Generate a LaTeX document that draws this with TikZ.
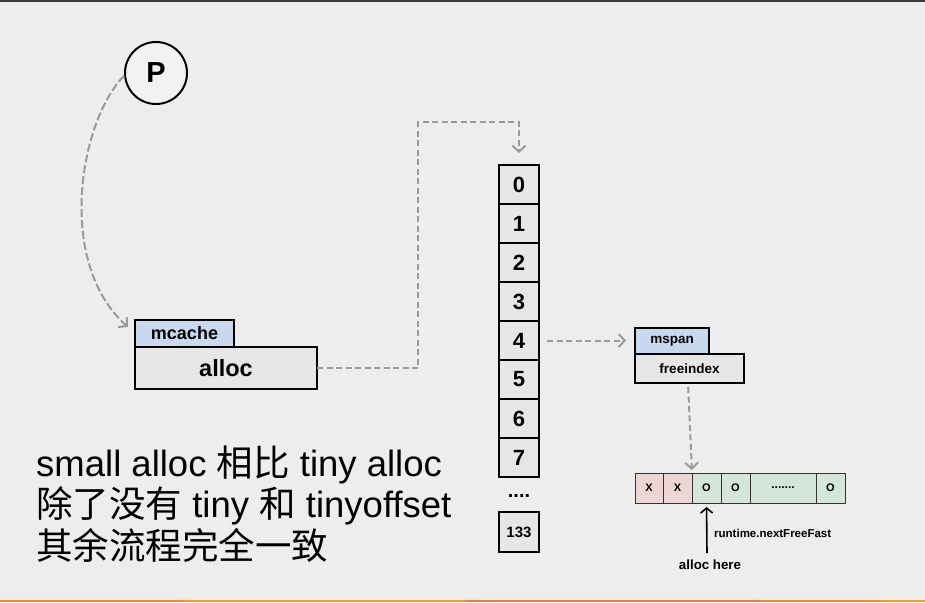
\documentclass[tikz,border=0pt]{standalone}
\usepackage{fontspec}
\setmainfont{Liberation Sans}
\newfontfamily\cjk{Noto Sans CJK SC}
\usetikzlibrary{arrows.meta,calc}
\definecolor{bg}{HTML}{EDEDED}
\definecolor{tabblue}{HTML}{C8D8EE}
\definecolor{cellgray}{HTML}{E6E6E6}
\definecolor{dashgray}{HTML}{9A9A9A}
\definecolor{xpink}{HTML}{EDD5D6}
\definecolor{ogreen}{HTML}{D4E6DA}
\definecolor{topline}{HTML}{3A3A3A}
\definecolor{orA}{HTML}{F38B25}
\definecolor{orB}{HTML}{F7A01C}
\definecolor{orC}{HTML}{EE8039}
\begin{document}
\begin{tikzpicture}[x=1pt,y=-1pt,
  box/.style={draw=black,line width=1.3pt,fill=cellgray,inner sep=0pt,outer sep=0pt,font=\bfseries},
  tab/.style={box,fill=tabblue},
  cell/.style={box,minimum width=40pt,minimum height=39pt,font=\bfseries\fontsize{22}{22}\selectfont},
  bit/.style={draw=black!80,line width=1pt,inner sep=0pt,outer sep=0pt,minimum height=30pt,font=\bfseries\fontsize{11}{11}\selectfont},
  conn/.style={draw=dashgray,line width=2pt,dash pattern=on 6pt off 3.5pt,-{Straight Barb[length=6pt,width=13pt,line width=2pt]}},
  big/.style={anchor=base west,inner sep=0pt,font=\fontsize{36.5}{36.5}\selectfont},
  lbl/.style={inner sep=0pt,font=\bfseries}
]
\useasboundingbox (0,0) rectangle (925,602);
\fill[bg] (0,0) rectangle (925,602);
\fill[topline] (0,0) rectangle (925,1.8);
\fill[orA] (0,600) rectangle (184,602);
\fill[orB] (184,600) rectangle (465,602);
\fill[orC] (465,600) rectangle (760,602);
\fill[orA] (760,600) rectangle (880,602);
\fill[orB] (880,600) rectangle (925,602);

% P
\node[circle,draw=black,line width=2pt,fill=black!5,minimum size=62pt,inner sep=0pt,
  font=\bfseries\fontsize{29}{29}\selectfont] (P) at (156,73) {P};

% mcache
\node[tab,minimum width=99pt,minimum height=27pt,font=\bfseries\fontsize{18}{18}\selectfont] (mcache) at (184.5,333.5) {mcache};
\node[box,minimum width=182pt,minimum height=42pt,font=\bfseries\fontsize{23.5}{23.5}\selectfont] (alloc) at (226,368) {alloc};
\coordinate (pin) at (128,327);
\draw[conn,dash pattern=on 8pt off 3pt] (P.185) .. controls (80,120) and (55,262) .. (pin);

% size class array
\foreach \i in {0,...,7}{
  \node[cell] (c\i) at (519,{184.5+39*\i}) {\i};
}
\node[lbl,font=\bfseries\fontsize{20}{20}\selectfont] (dots) at (519,496) {....};
\node[box,minimum width=40pt,minimum height=40pt,font=\bfseries\fontsize{15}{15}\selectfont] (c133) at (519,532) {133};

\coordinate (bend) at (418,122);
\draw[conn,shorten >=12pt] (alloc.east) -| (bend) -| (c0.north);

% mspan
\node[tab,minimum width=74pt,minimum height=26pt,font=\bfseries\fontsize{13.5}{13.5}\selectfont] (mspan) at (672,341) {mspan};
\node[box,minimum width=109pt,minimum height=29pt,font=\bfseries\fontsize{13.5}{13.5}\selectfont] (fi) at (689.5,368.5) {freeindex};
\draw[conn,shorten <=8pt,shorten >=9pt] (c4.east) -- (c4.east -| mspan.west);

% bitmap
\node[bit,fill=xpink,minimum width=28pt] (b1) at (649,488) {X};
\node[bit,fill=xpink,minimum width=29pt] (b2) at (677.5,488) {X};
\node[bit,fill=ogreen,minimum width=29pt] (b3) at (706.5,488) {O};
\node[bit,fill=ogreen,minimum width=29pt] (b4) at (735.5,488) {O};
\node[bit,fill=ogreen,minimum width=66pt,font=\bfseries\fontsize{12}{12}\selectfont] (b5) at (783,488) {.......};
\node[bit,fill=ogreen,minimum width=29pt] (b6) at (830.5,488) {O};
\draw[conn,shorten <=4pt,shorten >=3pt] ($(fi.south)+(-1.5,0)$) -- (b2.north east);

\coordinate (ahere) at (707,553);
\draw[line width=1.6pt,-{Straight Barb[length=5pt,width=12pt,line width=1.6pt]},shorten >=4pt] (ahere) -- (b3.south);
\node[lbl,anchor=west,font=\bfseries\fontsize{11.5}{11.5}\selectfont] (rt) at (714,533) {runtime.nextFreeFast};
\node[lbl,font=\bfseries\fontsize{13.3}{13.3}\selectfont] (ah) at (710,565) {alloc here};

% description
\node[big] (t1) at (36,476) {small alloc {\cjk 相比} tiny alloc};
\node[big] (t2) at (36,517) {{\cjk 除了没有} tiny {\cjk 和} tinyoffset};
\node[big] (t3) at (36,559) {{\cjk 其余流程完全一致}};
\end{tikzpicture}
\end{document}
